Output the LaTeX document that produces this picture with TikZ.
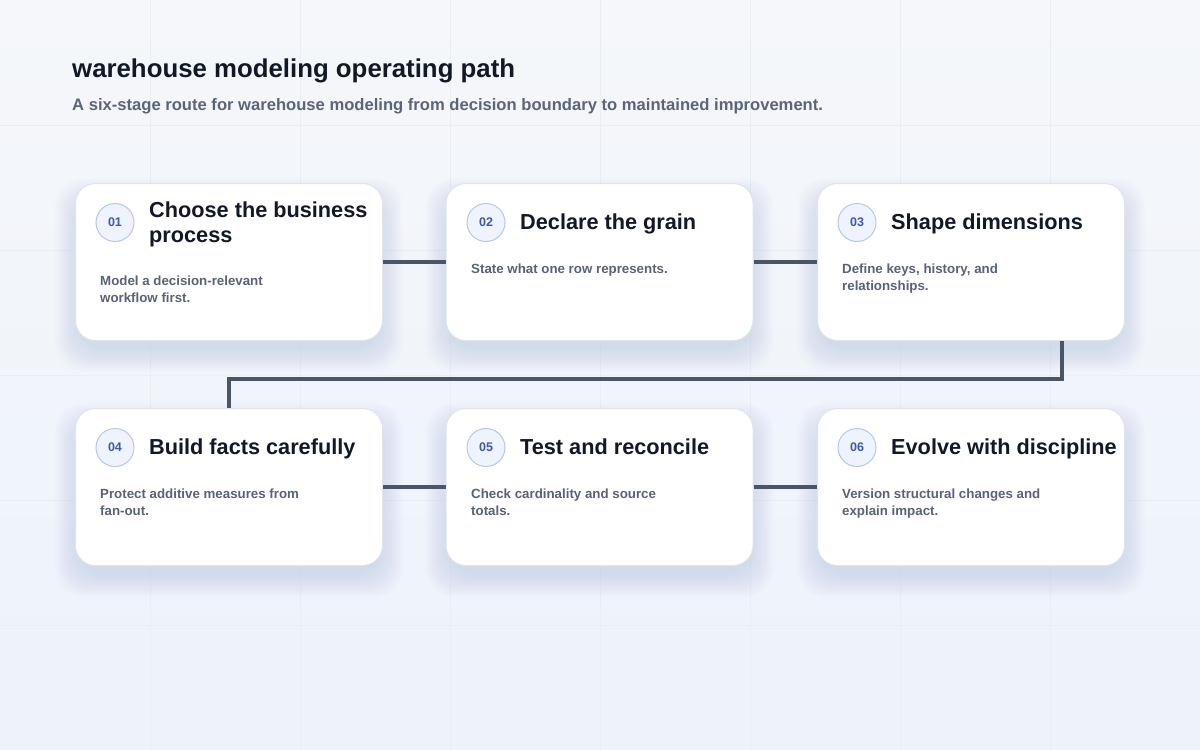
\documentclass[tikz,border=0pt]{standalone}
\usepackage{fontspec}
\setmainfont{Liberation Sans}
\usetikzlibrary{calc}
\definecolor{bgA}{HTML}{F5F7FA}
\definecolor{bgB}{HTML}{EDF2FB}
\definecolor{gridc}{HTML}{E9EDF4}
\definecolor{cardborder}{HTML}{DFE4ED}
\definecolor{shadowc}{HTML}{7D8FB8}
\definecolor{connc}{HTML}{4A5568}
\definecolor{titlec}{HTML}{111827}
\definecolor{subc}{HTML}{5B6577}
\definecolor{headc}{HTML}{111827}
\definecolor{bodyc}{HTML}{596376}
\definecolor{badgefill}{HTML}{EEF3FD}
\definecolor{badgeline}{HTML}{B8C7E8}
\definecolor{badgetext}{HTML}{3B5AA8}
\tikzset{
  card/.style={draw=cardborder, line width=1pt, fill=white, rounded corners=20pt,
    minimum width=307pt, minimum height=157pt, inner sep=0pt},
  badge/.style={circle, draw=badgeline, line width=1pt, fill=badgefill, minimum size=38pt,
    inner sep=0pt, font=\bfseries\fontsize{12.5}{14}\selectfont, text=badgetext},
  head/.style={anchor=base west, inner sep=0pt, font=\bfseries\fontsize{21.7}{25}\selectfont, text=headc},
  body/.style={anchor=base west, inner sep=0pt, font=\bfseries\fontsize{13.3}{17}\selectfont, text=bodyc},
  conn/.style={draw=connc, line width=3.5pt},
  shadowbox/.style={fill=shadowc, opacity=0.012, rounded corners=28pt},
}
\begin{document}
\begin{tikzpicture}[x=1pt, y=-1pt]
  \shade[top color=bgA, bottom color=bgB] (0,0) rectangle (1200,750);
  \useasboundingbox (0,0) rectangle (1200,750);
  \foreach \gx in {150,300,...,1050} \draw[gridc, line width=0.8pt] (\gx,0) -- (\gx,750);
  \foreach \gy in {125,250,...,625} \draw[gridc, line width=0.8pt] (0,\gy) -- (1200,\gy);

  \node[anchor=base west, inner sep=0pt, font=\bfseries\fontsize{25.8}{30}\selectfont, text=titlec] (title) at (72,77) {warehouse modeling operating path};
  \node[anchor=base west, inner sep=0pt, font=\bfseries\fontsize{16.6}{20}\selectfont, text=subc] (subtitle) at (72,110) {A six-stage route for warehouse modeling from decision boundary to maintained improvement.};

  % shadows
  \foreach \cx/\cy in {229/262, 599.5/262, 971/262, 229/487, 599.5/487, 971/487} {
    \foreach \k in {1,...,16} {
      \fill[shadowbox] (\cx-150-\k*1.5, \cy-60-\k*1.5) rectangle (\cx+150+\k*1.5, \cy+86+\k*1.5);
    }
  }
  % cards
  \foreach \n/\cx/\cy in {1/229/262, 2/599.5/262, 3/971/262, 4/229/487, 5/599.5/487, 6/971/487} {
    \node[card] (c\n) at (\cx,\cy) {};
  }
  % badges
  \foreach \n/\bx/\by in {1/115/222.5, 2/486/222.5, 3/857/222.5, 4/115/447.5, 5/486/447.5, 6/857/447.5} {
    \node[badge] (b\n) at (\bx,\by) {0\n};
  }
  % titles
  \node[head] (h1a) at (149,217) {Choose the business};
  \node[head] (h1b) at (149,242) {process};
  \node[head] (h2) at (520,229) {Declare the grain};
  \node[head] (h3) at (891,229) {Shape dimensions};
  \node[head] (h4) at (149,454) {Build facts carefully};
  \node[head] (h5) at (520,454) {Test and reconcile};
  \node[head] (h6) at (891,454) {Evolve with discipline};
  % bodies
  \node[body] (t1a) at (100,285) {Model a decision-relevant};
  \node[body] (t1b) at (100,302) {workflow first.};
  \node[body] (t2a) at (471,273) {State what one row represents.};
  \node[body] (t3a) at (842,273) {Define keys, history, and};
  \node[body] (t3b) at (842,290) {relationships.};
  \node[body] (t4a) at (100,498) {Protect additive measures from};
  \node[body] (t4b) at (100,515) {fan-out.};
  \node[body] (t5a) at (471,498) {Check cardinality and source};
  \node[body] (t5b) at (471,515) {totals.};
  \node[body] (t6a) at (842,498) {Version structural changes and};
  \node[body] (t6b) at (842,515) {explain impact.};
  % connectors
  \draw[conn] (c1.east) -- (c2.west);
  \draw[conn] (c2.east) -- (c3.west);
  \draw[conn] ([xshift=-63pt]c3.south east) -- ++(0,38) -| (c4.north);
  \draw[conn] (c4.east) -- (c5.west);
  \draw[conn] (c5.east) -- (c6.west);
\end{tikzpicture}
\end{document}
